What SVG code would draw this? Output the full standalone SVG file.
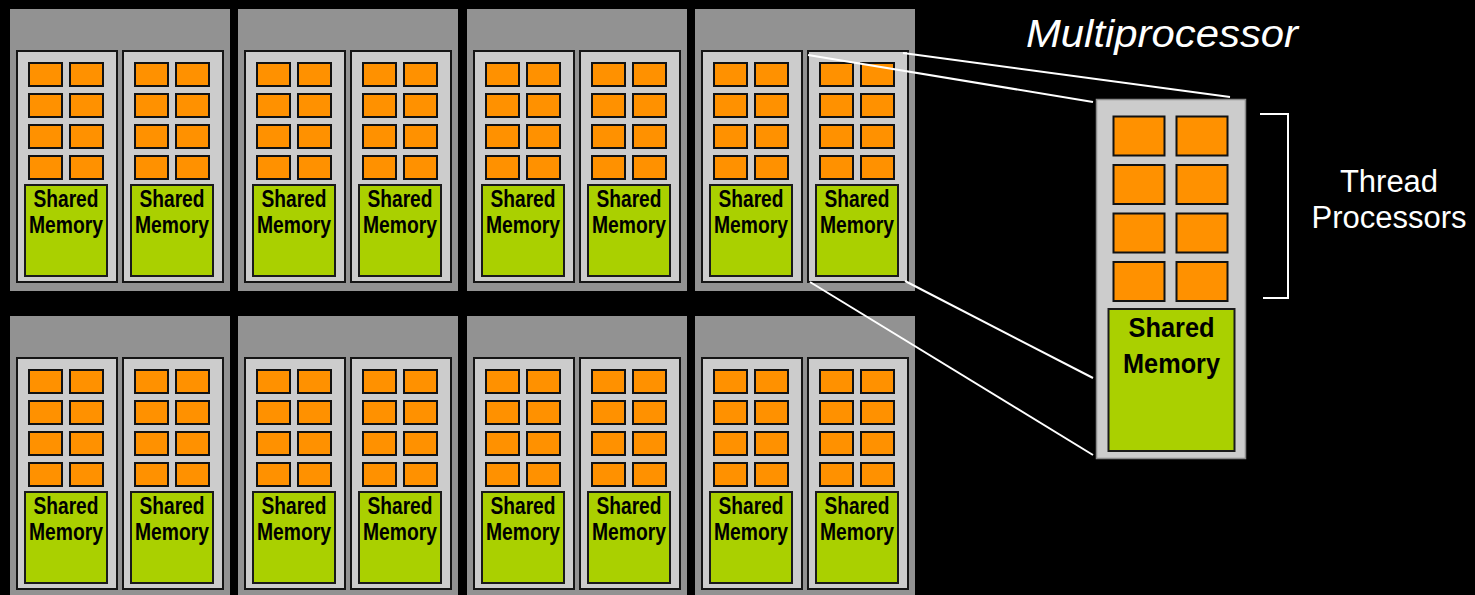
<svg xmlns="http://www.w3.org/2000/svg" xmlns:xlink="http://www.w3.org/1999/xlink" width="1475" height="595" viewBox="0 0 1475 595">
<style>
.cl{fill:#929292}
.sm{fill:#cccccc;stroke:#151515;stroke-width:2}
.tp{fill:#ff9100;stroke:#111;stroke-width:2}
.mem{fill:#aad000;stroke:#1a1a1a;stroke-width:2}
.st{font-family:"Liberation Sans",Arial,sans-serif;font-weight:bold;font-size:23px;fill:#000;text-anchor:middle}
.bt{font-family:"Liberation Sans",Arial,sans-serif;font-weight:bold;font-size:28px;fill:#000;text-anchor:middle}
.lab{font-family:"Liberation Sans",Arial,sans-serif;fill:#fff}
.con{stroke:#fff;stroke-width:2;fill:none}
</style>
<defs>
<g id="sp">
<rect class="sm" x="1" y="1" width="100" height="231"/>
<rect class="tp" x="13" y="13" width="33" height="23"/>
<rect class="tp" x="54" y="13" width="33" height="23"/>
<rect class="tp" x="13" y="44" width="33" height="23"/>
<rect class="tp" x="54" y="44" width="33" height="23"/>
<rect class="tp" x="13" y="75" width="33" height="23"/>
<rect class="tp" x="54" y="75" width="33" height="23"/>
<rect class="tp" x="13" y="106" width="33" height="23"/>
<rect class="tp" x="54" y="106" width="33" height="23"/>
<rect class="mem" x="9" y="135" width="82" height="91"/>
</g>
</defs>
<rect x="0" y="0" width="1475" height="595" fill="#000"/>

<g id="cluster-1-1"><rect class="cl" x="10" y="9" width="220" height="282"/>
<g id="sm-1-1a" transform="translate(16,50)"><use xlink:href="#sp"/><text class="st" x="50" y="157" textLength="65" lengthAdjust="spacingAndGlyphs">Shared</text><text class="st" x="50" y="183" textLength="74" lengthAdjust="spacingAndGlyphs">Memory</text></g>
<g id="sm-1-1b" transform="translate(122,50)"><use xlink:href="#sp"/><text class="st" x="50" y="157" textLength="65" lengthAdjust="spacingAndGlyphs">Shared</text><text class="st" x="50" y="183" textLength="74" lengthAdjust="spacingAndGlyphs">Memory</text></g>
</g>
<g id="cluster-1-2"><rect class="cl" x="238" y="9" width="220" height="282"/>
<g id="sm-1-2a" transform="translate(244,50)"><use xlink:href="#sp"/><text class="st" x="50" y="157" textLength="65" lengthAdjust="spacingAndGlyphs">Shared</text><text class="st" x="50" y="183" textLength="74" lengthAdjust="spacingAndGlyphs">Memory</text></g>
<g id="sm-1-2b" transform="translate(350,50)"><use xlink:href="#sp"/><text class="st" x="50" y="157" textLength="65" lengthAdjust="spacingAndGlyphs">Shared</text><text class="st" x="50" y="183" textLength="74" lengthAdjust="spacingAndGlyphs">Memory</text></g>
</g>
<g id="cluster-1-3"><rect class="cl" x="467" y="9" width="220" height="282"/>
<g id="sm-1-3a" transform="translate(473,50)"><use xlink:href="#sp"/><text class="st" x="50" y="157" textLength="65" lengthAdjust="spacingAndGlyphs">Shared</text><text class="st" x="50" y="183" textLength="74" lengthAdjust="spacingAndGlyphs">Memory</text></g>
<g id="sm-1-3b" transform="translate(579,50)"><use xlink:href="#sp"/><text class="st" x="50" y="157" textLength="65" lengthAdjust="spacingAndGlyphs">Shared</text><text class="st" x="50" y="183" textLength="74" lengthAdjust="spacingAndGlyphs">Memory</text></g>
</g>
<g id="cluster-1-4"><rect class="cl" x="695" y="9" width="220" height="282"/>
<g id="sm-1-4a" transform="translate(701,50)"><use xlink:href="#sp"/><text class="st" x="50" y="157" textLength="65" lengthAdjust="spacingAndGlyphs">Shared</text><text class="st" x="50" y="183" textLength="74" lengthAdjust="spacingAndGlyphs">Memory</text></g>
<g id="sm-1-4b" transform="translate(807,50)"><use xlink:href="#sp"/><text class="st" x="50" y="157" textLength="65" lengthAdjust="spacingAndGlyphs">Shared</text><text class="st" x="50" y="183" textLength="74" lengthAdjust="spacingAndGlyphs">Memory</text></g>
</g>

<g id="cluster-2-1"><rect class="cl" x="10" y="316" width="220" height="282"/>
<g id="sm-2-1a" transform="translate(16,357)"><use xlink:href="#sp"/><text class="st" x="50" y="157" textLength="65" lengthAdjust="spacingAndGlyphs">Shared</text><text class="st" x="50" y="183" textLength="74" lengthAdjust="spacingAndGlyphs">Memory</text></g>
<g id="sm-2-1b" transform="translate(122,357)"><use xlink:href="#sp"/><text class="st" x="50" y="157" textLength="65" lengthAdjust="spacingAndGlyphs">Shared</text><text class="st" x="50" y="183" textLength="74" lengthAdjust="spacingAndGlyphs">Memory</text></g>
</g>
<g id="cluster-2-2"><rect class="cl" x="238" y="316" width="220" height="282"/>
<g id="sm-2-2a" transform="translate(244,357)"><use xlink:href="#sp"/><text class="st" x="50" y="157" textLength="65" lengthAdjust="spacingAndGlyphs">Shared</text><text class="st" x="50" y="183" textLength="74" lengthAdjust="spacingAndGlyphs">Memory</text></g>
<g id="sm-2-2b" transform="translate(350,357)"><use xlink:href="#sp"/><text class="st" x="50" y="157" textLength="65" lengthAdjust="spacingAndGlyphs">Shared</text><text class="st" x="50" y="183" textLength="74" lengthAdjust="spacingAndGlyphs">Memory</text></g>
</g>
<g id="cluster-2-3"><rect class="cl" x="467" y="316" width="220" height="282"/>
<g id="sm-2-3a" transform="translate(473,357)"><use xlink:href="#sp"/><text class="st" x="50" y="157" textLength="65" lengthAdjust="spacingAndGlyphs">Shared</text><text class="st" x="50" y="183" textLength="74" lengthAdjust="spacingAndGlyphs">Memory</text></g>
<g id="sm-2-3b" transform="translate(579,357)"><use xlink:href="#sp"/><text class="st" x="50" y="157" textLength="65" lengthAdjust="spacingAndGlyphs">Shared</text><text class="st" x="50" y="183" textLength="74" lengthAdjust="spacingAndGlyphs">Memory</text></g>
</g>
<g id="cluster-2-4"><rect class="cl" x="695" y="316" width="220" height="282"/>
<g id="sm-2-4a" transform="translate(701,357)"><use xlink:href="#sp"/><text class="st" x="50" y="157" textLength="65" lengthAdjust="spacingAndGlyphs">Shared</text><text class="st" x="50" y="183" textLength="74" lengthAdjust="spacingAndGlyphs">Memory</text></g>
<g id="sm-2-4b" transform="translate(807,357)"><use xlink:href="#sp"/><text class="st" x="50" y="157" textLength="65" lengthAdjust="spacingAndGlyphs">Shared</text><text class="st" x="50" y="183" textLength="74" lengthAdjust="spacingAndGlyphs">Memory</text></g>
</g>

<g id="multiprocessor">
<rect x="1096.5" y="99.5" width="149" height="359" fill="#cccccc" stroke="#8a8a8a" stroke-width="1.5"/>
<rect class="tp" x="1113.5" y="116.5" width="51" height="39"/>
<rect class="tp" x="1176.5" y="116.5" width="51" height="39"/>
<rect class="tp" x="1113.5" y="165" width="51" height="39"/>
<rect class="tp" x="1176.5" y="165" width="51" height="39"/>
<rect class="tp" x="1113.5" y="213.5" width="51" height="39"/>
<rect class="tp" x="1176.5" y="213.5" width="51" height="39"/>
<rect class="tp" x="1113.5" y="262" width="51" height="39"/>
<rect class="tp" x="1176.5" y="262" width="51" height="39"/>
<rect class="mem" x="1108.5" y="309" width="126" height="142"/>
<text class="bt" x="1171.5" y="337" textLength="86" lengthAdjust="spacingAndGlyphs">Shared</text>
<text class="bt" x="1171.5" y="373" textLength="97" lengthAdjust="spacingAndGlyphs">Memory</text>
</g>

<g id="labels">
<text class="lab" x="1026" y="47" font-size="38.5" font-style="italic" textLength="272" lengthAdjust="spacingAndGlyphs">Multiprocessor</text>
<text class="lab" x="1389" y="192" font-size="31" text-anchor="middle">Thread</text>
<text class="lab" x="1389" y="228" font-size="31" text-anchor="middle">Processors</text>
</g>

<g id="connectors">
<line class="con" x1="808" y1="55" x2="1093" y2="102"/>
<line class="con" x1="903" y1="53" x2="1230" y2="97"/>
<line class="con" x1="810" y1="282" x2="1093" y2="455"/>
<line class="con" x1="905" y1="281" x2="1093" y2="378"/>
<polyline class="con" points="1260,114 1288,114 1288,298 1263,298"/>
</g>
</svg>
